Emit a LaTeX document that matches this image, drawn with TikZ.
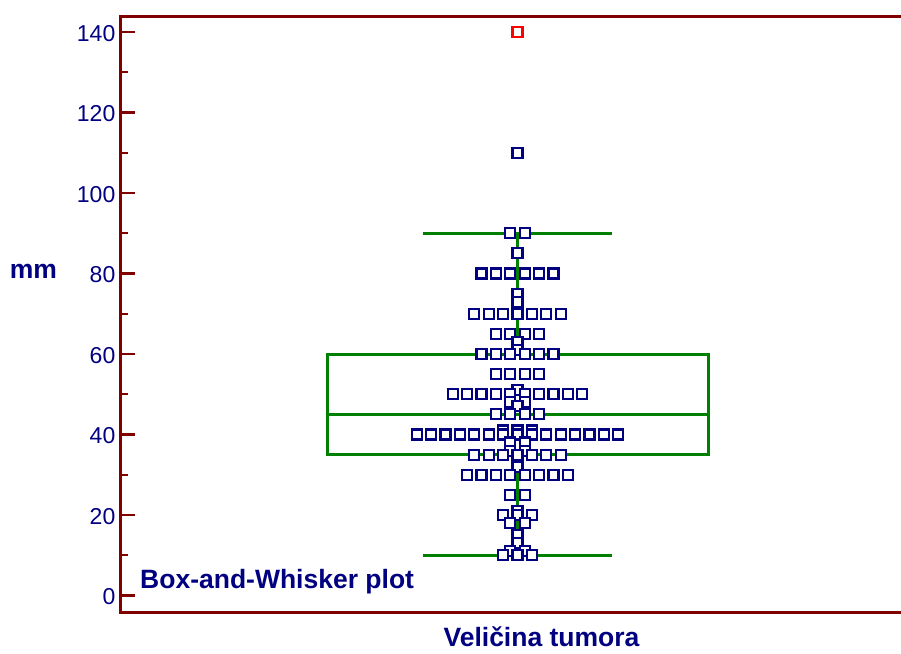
\documentclass[tikz,border=0pt]{standalone}
\usepackage{fontspec}
\setmainfont{Liberation Sans}
\definecolor{navy}{RGB}{0,0,128}
\definecolor{axred}{RGB}{128,0,0}
\definecolor{grn}{RGB}{0,128,0}
\begin{document}
\begin{tikzpicture}[x=1pt,y=-1pt,
  frameline/.style={draw=axred, line width=3pt},
  tickmark/.style={draw=axred, line width=2.2pt},
  ticklabel/.style={anchor=east, inner sep=0pt, text=navy, font=\fontsize{23}{27}\selectfont},
  boldlabel/.style={inner sep=0pt, text=navy, font=\fontsize{26.5}{30}\selectfont\bfseries},
  boxline/.style={draw=grn, line width=3pt},
  datapt/.style={rectangle, draw=navy, fill=white, line width=2.2pt, minimum size=10pt, inner sep=0pt},
  outpt/.style={datapt, draw=red}]
\useasboundingbox (0,0) rectangle (901,653);
% box and whiskers
\coordinate (bl) at (327,{595.5-4.025*35});
\coordinate (tr) at (708,{595.5-4.025*60});
\coordinate (ml) at (327,{595.5-4.025*45});
\coordinate (mr) at (708,{595.5-4.025*45});
\coordinate (wtop) at (517.5,{595.5-4.025*90});
\coordinate (wq3) at (517.5,{595.5-4.025*60});
\coordinate (wq1) at (517.5,{595.5-4.025*35});
\coordinate (wbot) at (517.5,{595.5-4.025*10});
\coordinate (ctl) at (423,{595.5-4.025*90});
\coordinate (ctr) at (612,{595.5-4.025*90});
\coordinate (cbl) at (423,{595.5-4.025*10});
\coordinate (cbr) at (612,{595.5-4.025*10});
\draw[boxline] (bl) rectangle (tr);
\draw[boxline] (ml) -- (mr);
\draw[boxline] (wq3) -- (wtop);
\draw[boxline] (wq1) -- (wbot);
\draw[boxline] (ctl) -- (ctr);
\draw[boxline] (cbl) -- (cbr);
% data points
\foreach \v/\n [count=\r] in {110/1, 90/2, 85/1, 80/6, 75/1, 73/1, 70/7, 65/4, 63/1, 61/1, 60/6, 55/4, 51/1, 50/10, 48/2, 47/1, 45/4, 41/3, 40/15, 38/2, 36/2, 35/7, 32/1, 30/8, 25/2, 21/1, 20/3, 18/2, 15/1, 13/1, 11/2, 10/3} {
  \foreach \k in {1,...,\n} {
    \node[datapt] (p\r-\k) at ({517.5+(\k-(\n+1)/2)*14.4},{595.5-4.025*\v}) {};
  }
}
\node[outpt] (outlier) at (517.5,{595.5-4.025*140}) {};
% axes frame
\draw[frameline, line join=miter] (901,16) -- (120,16) -- (120,612) -- (901,612);
% ticks
\foreach \t in {0,20,...,140} {
  \draw[tickmark] (120,{595.5-4.025*\t}) -- (135,{595.5-4.025*\t});
  \node[ticklabel] (lab\t) at (115.5,{597-4.025*\t}) {\t};
}
\foreach \t in {10,30,...,130} {
  \draw[tickmark] (120,{595.5-4.025*\t}) -- (128,{595.5-4.025*\t});
}
% labels
\node[boldlabel, anchor=base] (ylab) at (33.5,278.3) {mm};
\node[boldlabel, anchor=base west] (title) at (140,588.3) {Box-and-Whisker plot};
\node[boldlabel, anchor=base] (xlab) at (541.5,646.7) {Veličina tumora};
\end{tikzpicture}
\end{document}
